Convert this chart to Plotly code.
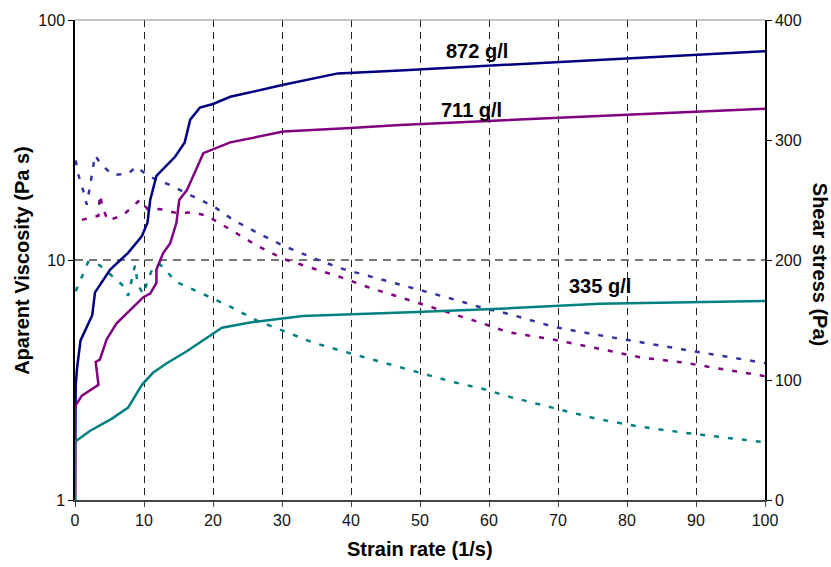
import plotly.graph_objects as go

# ---- Shear stress (right axis, Pa) ----
x_s872 = [0, 0, 0.1, 0.3, 0.8, 2.5, 2.9, 5.1, 7.7, 9.7, 10.5, 10.9, 11.8, 14.5, 15.9, 16.7, 18.1, 20, 22.5, 30.2, 38.1, 47.1, 60, 80, 100]
y_s872 = [0, 82, 95, 110, 133, 154, 173, 192, 206, 220, 231, 250, 270, 286, 298, 317, 327, 330, 336, 346, 355.5, 358, 362, 368, 374]

x_s711 = [0, 0, 1.0, 3.4, 3.0, 3.6, 4.6, 6.0, 9.9, 10.9, 11.8, 11.8, 12.8, 13.8, 14.7, 15.1, 16.2, 17.4, 18.6, 22.5, 30.2, 39.9, 47.1, 80, 100]
y_s711 = [0, 78, 87, 96, 115, 117, 134, 147, 169, 172, 181, 192, 206, 214, 231, 250, 258, 274, 289, 298, 307, 310, 312.6, 321, 326]

x_s335 = [0, 0, 2.2, 5.3, 7.7, 9.7, 11.3, 13.3, 16.2, 20, 21.3, 25.4, 33, 49.5, 61.6, 76, 100]
y_s335 = [0, 48.6, 57.7, 67.6, 77, 96, 106, 114, 124, 139, 143.5, 148, 153.4, 156.7, 159.4, 163.5, 165.8]

# ---- Apparent viscosity (left log axis, Pa s) ----
x_v872 = [0.1, 0.5, 1.2, 1.7, 2.2, 2.9, 3.9, 5.5, 7.7, 8.9, 10.6, 13.8, 17.1, 20, 22.9, 26.6, 30.4, 34.5, 38.4, 42.3, 46.6, 50.7, 54.8, 59.2, 63, 69.3, 75.6, 81.9, 88.1, 100]
y_v872 = [26.0, 22.6, 19.4, 17.0, 20.5, 27.3, 24.8, 22.6, 22.9, 24.5, 22.4, 20.5, 18.4, 16.8, 14.7, 12.9, 11.4, 10.2, 9.25, 8.6, 7.95, 7.4, 6.87, 6.3, 5.95, 5.27, 4.88, 4.54, 4.24, 3.72]

x_v711 = [1.0, 3.4, 3.6, 4.1, 4.8, 7.0, 9.4, 10.6, 12.3, 14.7, 17.1, 19.1, 22.5, 26.3, 30.2, 34.5, 38.4, 42.5, 46.6, 50.7, 54.8, 58.7, 62.8, 69.3, 75.6, 81.9, 88.1, 100]
y_v711 = [14.7, 15.3, 18.7, 16.2, 14.6, 15.4, 17.8, 16.2, 16.3, 15.7, 15.8, 15.3, 13.4, 11.5, 10.1, 9.2, 8.5, 7.7, 7.07, 6.5, 5.96, 5.49, 5.0, 4.66, 4.29, 3.93, 3.74, 3.28]

x_v335 = [0.1, 1.1, 1.9, 3.6, 6.8, 7.7, 8.2, 8.7, 9.1, 9.9, 10.6, 11.3, 12.3, 14.7, 18.6, 22.0, 26.3, 30.4, 34.5, 38.4, 42.5, 46.6, 50.7, 54.8, 59.2, 63, 69.3, 75.6, 81.9, 88.1, 100]
y_v335 = [7.4, 8.6, 9.8, 9.5, 7.9, 7.1, 8.3, 9.5, 7.9, 7.2, 8.3, 9.3, 9.6, 8.1, 7.2, 6.5, 5.6, 5.02, 4.53, 4.2, 3.9, 3.6, 3.35, 3.1, 2.9, 2.69, 2.42, 2.18, 2.02, 1.91, 1.74]

labels = ["872 g/l", "711 g/l", "335 g/l"]
label_x = [58.3, 57.4, 76.1]
label_y = [374, 325, 178]

NAVY, PURPLE, TEAL = "#000080", "#800080", "#008080"
NAVY_D = "#3333a0"
FONT = "Liberation Sans, Arial, sans-serif"

fig = go.Figure()
dash = "5px,9px"
for xs, ys, c in [(x_v872, y_v872, NAVY_D), (x_v711, y_v711, PURPLE), (x_v335, y_v335, TEAL)]:
    fig.add_trace(go.Scatter(x=xs, y=ys, mode="lines", yaxis="y",
                             line=dict(color=c, width=2.5, dash=dash), showlegend=False))
for xs, ys, c in [(x_s872, y_s872, NAVY), (x_s711, y_s711, PURPLE), (x_s335, y_s335, TEAL)]:
    fig.add_trace(go.Scatter(x=xs, y=ys, mode="lines", yaxis="y2",
                             line=dict(color=c, width=2.5), showlegend=False))

for t, lx, ly in zip(labels, label_x, label_y):
    fig.add_annotation(x=lx, y=ly, xref="x", yref="y2", text="<b>%s</b>" % t,
                       showarrow=False, font=dict(family=FONT, size=20, color="#000"))

fig.add_annotation(xref="paper", yref="paper", x=-0.077, y=0.5, xanchor="center", yanchor="middle",
                   text="<b>Aparent Viscosity (Pa s)</b>", textangle=-90, showarrow=False,
                   font=dict(family=FONT, size=20, color="#000"))
fig.add_annotation(xref="paper", yref="paper", x=1.0797, y=0.49, xanchor="center", yanchor="middle",
                   text="<b>Shear stress (Pa)</b>", textangle=90, showarrow=False,
                   font=dict(family=FONT, size=20, color="#000"))
fig.add_annotation(xref="paper", yref="paper", x=0.5, y=-0.103, xanchor="center", yanchor="middle",
                   text="<b>Strain rate (1/s)</b>", showarrow=False,
                   font=dict(family=FONT, size=20, color="#000"))

fig.add_shape(type="line", xref="paper", yref="paper", x0=0, x1=1, y0=1, y1=1,
              line=dict(color="#888", width=1))

fig.update_layout(
    width=831, height=567,
    margin=dict(l=75, r=66, t=15, b=67),
    paper_bgcolor="white", plot_bgcolor="white",
    font=dict(family=FONT, size=16, color="#111"),
    xaxis=dict(range=[0, 100], dtick=10, tick0=0, showgrid=True, gridcolor="#222",
               griddash="7px,5px", gridwidth=1, showline=True, linecolor="#444", linewidth=1.5,
               ticks="outside", ticklen=5, tickcolor="#444", zeroline=False),
    yaxis=dict(type="log", range=[0, 2], tickvals=[1, 10, 100], ticktext=["1", "10", "100"],
               showgrid=True, gridcolor="#777", griddash="8px,6px", gridwidth=1.5,
               showline=True, linecolor="#000", linewidth=1.5, ticks="outside", ticklen=5,
               tickcolor="#000", zeroline=False),
    yaxis2=dict(range=[0, 400], dtick=100, overlaying="y", side="right", showgrid=False,
                showline=True, linecolor="#000", linewidth=1.5, ticks="outside", ticklen=5,
                tickcolor="#000", zeroline=False),
)

fig.write_html("out.html")
